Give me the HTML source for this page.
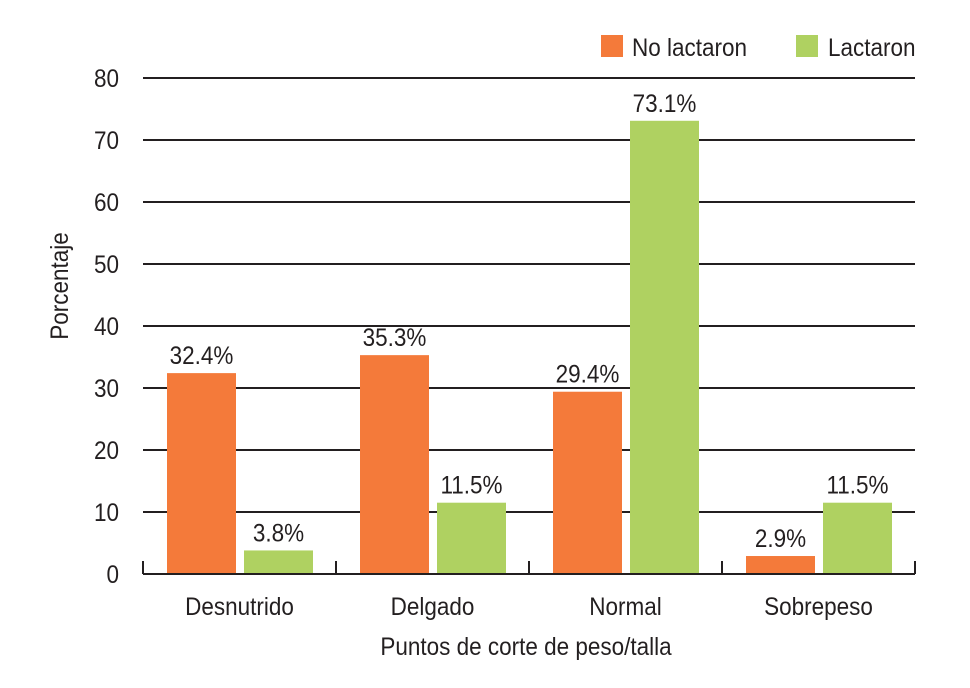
<!DOCTYPE html>
<html><head><meta charset="utf-8"><style>
body{margin:0;background:#fff}
svg text{font-family:"Liberation Sans",sans-serif;fill:#231f20}
</style></head><body>
<svg id="c" width="970" height="683" viewBox="0 0 970 683" xmlns="http://www.w3.org/2000/svg"></svg>
<script>
const categories=["Desnutrido","Delgado","Normal","Sobrepeso"];
const noLactaron=[32.4,35.3,29.4,2.9];
const lactaron=[3.8,11.5,73.1,11.5];
const yTicks=[0,10,20,30,40,50,60,70,80];
const NS="http://www.w3.org/2000/svg";
const svg=document.getElementById("c");
const x0=143,x1=915,yBase=574,yTop=78;
const y=v=>yBase-(v/80)*(yBase-yTop);
const gw=(x1-x0)/categories.length;
function el(t,a,txt){const e=document.createElementNS(NS,t);for(const k in a)e.setAttribute(k,a[k]);if(txt!==undefined)e.textContent=txt;svg.appendChild(e);return e;}
function tx(x,yy,anchor,s){return el("text",{x:0,y:0,"text-anchor":anchor,"font-size":25,transform:"translate("+x+","+yy+") scale(0.9,1)"},s);}
yTicks.forEach(v=>{
  if(v>0){const g=el("line",{x1:x0,x2:x1,y1:y(v),y2:y(v),stroke:"#231f20","stroke-width":2});
  
  }
  const t=tx(119,y(v)+9,"end",v);
  
  
});
categories.forEach((c,i)=>{
  const gx=x0+i*gw;
  const b1=el("rect",{x:gx+24,y:y(noLactaron[i]),width:69,height:yBase-y(noLactaron[i]),fill:"#f47a3a"});
  
  
  const b2=el("rect",{x:gx+101,y:y(lactaron[i]),width:69,height:yBase-y(lactaron[i]),fill:"#afd161"});
  
  
  const l1=tx(gx+58.5,y(noLactaron[i])-9,"middle",noLactaron[i].toFixed(1)+"%");
  
  
  const l2=tx(gx+135.5,y(lactaron[i])-9,"middle",lactaron[i].toFixed(1)+"%");
  
  
  const cl=tx(gx+gw/2,615,"middle",c);
  
  
});
for(let i=0;i<=categories.length;i++){
  const t=el("line",{x1:x0+i*gw,x2:x0+i*gw,y1:561,y2:yBase,stroke:"#231f20","stroke-width":2});
  
  
}
const ax=el("line",{x1:x0,x2:x1,y1:yBase,y2:yBase,stroke:"#231f20","stroke-width":2});


const xt=tx(526,655,"middle","Puntos de corte de peso/talla");


const yt=el("text",{x:0,y:0,"text-anchor":"middle","font-size":25,transform:"translate(68,286) rotate(-90) scale(0.9,1)"},"Porcentaje");


const lg1=el("rect",{x:601,y:35,width:22,height:22,fill:"#f47a3a"});


const lt1=tx(632,56,"start","No lactaron");


const lg2=el("rect",{x:796,y:35,width:22,height:22,fill:"#afd161"});


const lt2=tx(828,56,"start","Lactaron");


</script>
</body></html>
